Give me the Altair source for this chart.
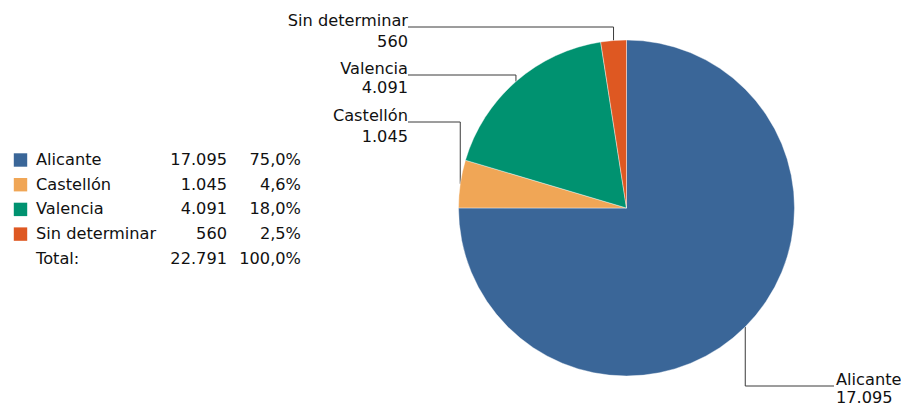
import math
import altair as alt
import pandas as pd

# ---------------- data ----------------
categorias = ["Alicante", "Castellón", "Valencia", "Sin determinar"]
valores = [17095, 1045, 4091, 560]
colores = ["#3a6698", "#f0a656", "#009270", "#de5822"]
titulo = "Provincia"
texto_total = "Total:"

# ---------------- layout (svg coords; page = svg + 8) ----------------
CX, CY, R = 618.5, 200.0, 168.0
FONT = "DejaVu Sans"
FS = 16.2
TXT = "#111111"
LINEA = "#3a3a3a"
# leader label anchors: elbow y, label x, text alignment, second-line offset
etiqueta_y = [378, 114, 67, 19]
etiqueta_x = [828, 400, 400, 400]
etiqueta_alinea = ["left", "right", "right", "right"]
etiqueta_dy2 = [16.5, 20, 18, 20]
# legend layout
ley_y0, ley_dy = 152.0, 24.7
ley_cuadro_x, ley_nombre_x, ley_valor_x, ley_pct_x = 12.5, 28, 219, 293

total = sum(valores)


def fmt_miles(v):
    return f"{v:,}".replace(",", ".")


def fmt_pct(p):
    return f"{p:.1f}".replace(".", ",") + "%"


# pie data
pie = pd.DataFrame({"categoria": categorias, "valor": valores, "orden": range(len(valores))})

# leader lines computed from values
segs, textos = [], []
acum = 0.0
for i, v in enumerate(valores):
    mid = (acum + v / 2) / total
    acum += v
    th = 2 * math.pi * mid
    ex = CX + R * math.sin(th)
    ey = CY - R * math.cos(th)
    ly = etiqueta_y[i]
    lx = etiqueta_x[i]
    end = lx - 2 if etiqueta_alinea[i] == "left" else lx
    segs.append({"x": ex, "y": ey, "x2": ex, "y2": ly})
    segs.append({"x": ex, "y": ly, "x2": end, "y2": ly})
    textos.append({"x": lx, "y": ly - 1, "t": categorias[i], "al": etiqueta_alinea[i]})
    textos.append({"x": lx, "y": ly + etiqueta_dy2[i], "t": fmt_miles(v), "al": etiqueta_alinea[i]})
segs = pd.DataFrame(segs)
textos = pd.DataFrame(textos)

# legend table
filas = []
for i, (c, v) in enumerate(zip(categorias, valores)):
    filas.append({"y": ley_y0 + i * ley_dy, "nombre": c, "valor": fmt_miles(v),
                  "pct": fmt_pct(100 * v / total), "categoria": c})
filas.append({"y": ley_y0 + len(valores) * ley_dy, "nombre": texto_total,
              "valor": fmt_miles(total), "pct": fmt_pct(100.0), "categoria": ""})
ley = pd.DataFrame(filas)

escala_color = alt.Scale(domain=categorias, range=colores)

arcos = alt.Chart(pie).mark_arc(outerRadius=R, stroke="white", strokeWidth=0.4).encode(
    theta=alt.Theta("valor:Q", stack=True),
    color=alt.Color("categoria:N", scale=escala_color, legend=None),
    order=alt.Order("orden:Q", sort="ascending"),
    x=alt.value(CX),
    y=alt.value(CY),
)

lineas = alt.Chart(segs).mark_rule(color=LINEA, strokeWidth=1).encode(
    x=alt.X("x:Q", scale=None), y=alt.Y("y:Q", scale=None),
    x2="x2:Q", y2="y2:Q",
)

txt_der = alt.Chart(textos[textos["al"] == "right"]).mark_text(
    align="right", baseline="alphabetic", font=FONT, fontSize=FS, color=TXT
).encode(x=alt.X("x:Q", scale=None), y=alt.Y("y:Q", scale=None), text="t:N")

txt_izq = alt.Chart(textos[textos["al"] == "left"]).mark_text(
    align="left", baseline="alphabetic", font=FONT, fontSize=FS, color=TXT
).encode(x=alt.X("x:Q", scale=None), y=alt.Y("y:Q", scale=None), text="t:N")

ley_base = alt.Chart(ley)
cuadros = ley_base.transform_filter("datum.categoria != ''").mark_square(size=180, opacity=1).encode(
    x=alt.value(ley_cuadro_x), y=alt.Y("y:Q", scale=None),
    color=alt.Color("categoria:N", scale=escala_color, legend=None),
)
nombres = ley_base.mark_text(align="left", baseline="middle", font=FONT, fontSize=FS, color=TXT).encode(
    x=alt.value(ley_nombre_x), y=alt.Y("y:Q", scale=None), text="nombre:N")
vals = ley_base.mark_text(align="right", baseline="middle", font=FONT, fontSize=FS, color=TXT).encode(
    x=alt.value(ley_valor_x), y=alt.Y("y:Q", scale=None), text="valor:N")
pcts = ley_base.mark_text(align="right", baseline="middle", font=FONT, fontSize=FS, color=TXT).encode(
    x=alt.value(ley_pct_x), y=alt.Y("y:Q", scale=None), text="pct:N")

tit = alt.Chart(pd.DataFrame({"t": [titulo]})).mark_text(
    align="left", baseline="alphabetic", font=FONT, fontSize=21, color="#1c1ca0"
).encode(x=alt.value(55), y=alt.value(-3), text="t:N")

chart = alt.layer(lineas, arcos, txt_der, txt_izq, cuadros, nombres, vals, pcts, tit).properties(
    width=893, height=397, padding=0, autosize=alt.AutoSizeParams(type="none"),
    background="white",
).configure_view(strokeWidth=0)

chart.save("out.html", embed_options={"renderer": "svg", "actions": False})
